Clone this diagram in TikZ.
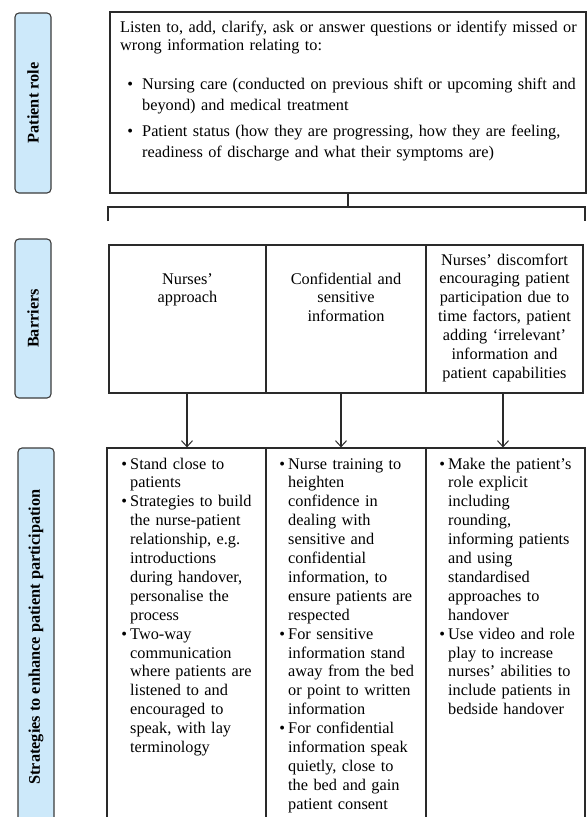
\documentclass[tikz,border=0pt]{standalone}
\usepackage{fontspec}
\setmainfont{Liberation Serif}
\usetikzlibrary{arrows.meta}
\definecolor{labelfill}{HTML}{CDE9FA}
\definecolor{labeldraw}{HTML}{3C3C3C}
\definecolor{boxdraw}{HTML}{2A2A2A}
\newcommand{\bul}[1]{\leavevmode\llap{\textbullet\hspace{#1}}}
\tikzset{
  labelbox/.style={draw=labeldraw, fill=labelfill, line width=1.1pt, rounded corners=4pt,
    rotate=90, inner sep=0pt, font=\fontsize{16.3}{19}\selectfont\bfseries},
  box/.style={draw=boxdraw, line width=1.2pt, inner sep=0pt},
  txt/.style={inner sep=0pt, anchor=base west, align=left, text width=#1,
    font=\fontsize{16.3}{18.9}\selectfont},
  ctxt/.style={inner sep=0pt, anchor=base, align=center, text width=#1,
    font=\fontsize{16.3}{18.9}\selectfont},
  conn/.style={draw=boxdraw, line width=1.2pt},
  arr/.style={conn, -{Straight Barb[length=6pt,width=11pt,line width=1pt]}}
}
\begin{document}
\begin{tikzpicture}[x=1pt,y=-1pt]
\clip (0,0) rectangle (587,817);
\fill[white] (0,0) rectangle (587,817);
% side labels
\node[labelbox, minimum width=180pt, minimum height=36pt] (lab1) at (33,103) {Patient role};
\node[labelbox, minimum width=159pt, minimum height=36pt] (lab2) at (33,318.5) {Barriers};
\node[labelbox, minimum width=378pt, minimum height=36pt] (lab3) at (36,637) {Strategies to enhance patient participation};
% top box
\node[box, minimum width=476pt, minimum height=181pt] (top) at (348,102.5) {};
\node[txt=470pt] (intro) at (120,32) {Listen to, add, clarify, ask or answer questions or identify missed or\\wrong information relating to:};
\node[txt=440pt, font=\fontsize{16.3}{21}\selectfont] (tb1) at (142,89) {\bul{9pt}Nursing care (conducted on previous shift or upcoming shift and\\beyond) and medical treatment};
\node[txt=440pt, font=\fontsize{16.3}{21}\selectfont] (tb2) at (142,136) {\bul{9pt}Patient status (how they are progressing, how they are feeling,\\readiness of discharge and what their symptoms are)};
% bracket
\coordinate (brM) at (348,207);
\coordinate (brL) at (108,221);
\coordinate (brR) at (585,221);
\draw[conn] (top.south) -- (brM);
\draw[conn] (brL) -- (brL |- brM) -- (brR |- brM) -- (brR);
% barriers
\node[box, minimum width=157pt, minimum height=148pt] (b1) at (187.5,319) {};
\node[box, minimum width=160pt, minimum height=148pt] (b2) at (346,319) {};
\node[box, minimum width=157pt, minimum height=148pt] (b3) at (504.5,319) {};
\node[ctxt=150pt] (b1t) at (187.5,284) {Nurses’\\approach};
\node[ctxt=150pt] (b2t) at (346,284) {Confidential and\\sensitive\\information};
\node[ctxt=155pt] (b3t) at (504.5,265) {Nurses’ discomfort\\encouraging patient\\participation due to\\time factors, patient\\adding ‘irrelevant’\\information and\\patient capabilities};
% strategies
\node[box, minimum width=159pt, minimum height=382pt] (s1) at (186.5,639) {};
\node[box, minimum width=160pt, minimum height=382pt] (s2) at (346,639) {};
\node[box, minimum width=159pt, minimum height=382pt] (s3) at (505.5,639) {};
\node[txt=150pt] (s1t) at (130,469) {\bul{3pt}Stand close to\\patients\\\bul{3pt}Strategies to build\\the nurse-patient\\relationship, e.g.\\introductions\\during handover,\\personalise the\\process\\\bul{3pt}Two-way\\communication\\where patients are\\listened to and\\encouraged to\\speak, with lay\\terminology};
\node[txt=150pt] (s2t) at (288,469) {\bul{3pt}Nurse training to\\heighten\\confidence in\\dealing with\\sensitive and\\confidential\\information, to\\ensure patients are\\respected\\\bul{3pt}For sensitive\\information stand\\away from the bed\\or point to written\\information\\\bul{3pt}For confidential\\information speak\\quietly, close to\\the bed and gain\\patient consent};
\node[txt=150pt] (s3t) at (448,469) {\bul{3pt}Make the patient’s\\role explicit\\including\\rounding,\\informing patients\\and using\\standardised\\approaches to\\handover\\\bul{3pt}Use video and role\\play to increase\\nurses’ abilities to\\include patients in\\bedside handover};
% arrows
\draw[arr] ([xshift=-0.5pt]b1.south) -- ([xshift=-0.5pt]b1.south |- s1.north);
\draw[arr] ([xshift=-5pt]b2.south) -- ([xshift=-5pt]b2.south |- s2.north);
\draw[arr] ([xshift=-1.5pt]b3.south) -- ([xshift=-1.5pt]b3.south |- s3.north);
\end{tikzpicture}
\end{document}
